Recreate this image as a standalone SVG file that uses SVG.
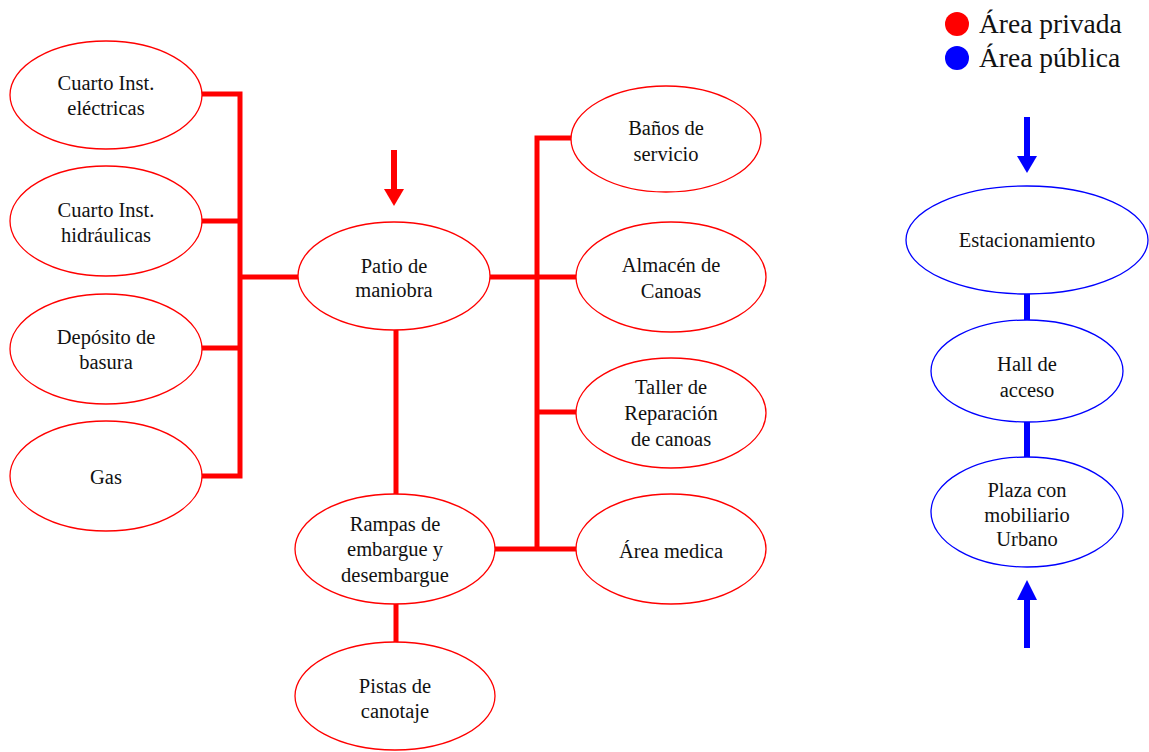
<svg xmlns="http://www.w3.org/2000/svg" width="1149" height="752" viewBox="0 0 1149 752">
<style>
.r{fill:#fff;stroke:#ff0000;stroke-width:1.3}
.b{fill:#fff;stroke:#0000ff;stroke-width:1.3}
text{font-family:"Liberation Serif","Times New Roman",serif;font-size:20.5px;fill:#111;text-anchor:middle}
.lg{font-size:27.5px;text-anchor:start}
.rc{stroke:#ff0000;stroke-width:5;fill:none;stroke-linecap:square}
.bc{stroke:#0000ff;stroke-width:6;fill:none}
</style>
<rect width="1149" height="752" fill="#fff"/>
<g id="connectors">
<path class="rc" d="M202,94H240V476H202M202,221H240M202,348H240M240,277H298"/>
<path class="rc" d="M396,330V495M396,604V641"/>
<path class="rc" d="M571,138H537V549M489,277H576M537,412H576M495,549H576"/>
<line x1="394" y1="150" x2="394" y2="190" stroke="#ff0000" stroke-width="6"/>
<polygon points="384,189 404,189 394,206" fill="#ff0000"/>
<path class="bc" d="M1027,294V320M1027,421V457"/>
<line x1="1027" y1="117" x2="1027" y2="157" stroke="#0000ff" stroke-width="6"/>
<polygon points="1017,156 1037,156 1027,173" fill="#0000ff"/>
<line x1="1027" y1="599" x2="1027" y2="648" stroke="#0000ff" stroke-width="6"/>
<polygon points="1017,600 1037,600 1027,580" fill="#0000ff"/>
</g>
<g id="legend">
<circle cx="957" cy="24" r="12" fill="#ff0000"/>
<circle cx="957" cy="58" r="12" fill="#0000ff"/>
<text class="lg" x="979" y="33">Área privada</text>
<text class="lg" x="979" y="67">Área pública</text>
</g>
<g id="n-electricas"><ellipse class="r" cx="106" cy="95" rx="96" ry="54"/><text x="106" y="90">Cuarto Inst.</text><text x="106" y="115">eléctricas</text></g>
<g id="n-hidraulicas"><ellipse class="r" cx="106" cy="221" rx="96" ry="55"/><text x="106" y="217">Cuarto Inst.</text><text x="106" y="242">hidráulicas</text></g>
<g id="n-deposito"><ellipse class="r" cx="106" cy="349" rx="96" ry="55"/><text x="106" y="344">Depósito de</text><text x="106" y="369">basura</text></g>
<g id="n-gas"><ellipse class="r" cx="106" cy="476" rx="96" ry="55"/><text x="106" y="484">Gas</text></g>
<g id="n-patio"><ellipse class="r" cx="394" cy="276" rx="96" ry="54"/><text x="394" y="273">Patio de</text><text x="394" y="297">maniobra</text></g>
<g id="n-rampas"><ellipse class="r" cx="395" cy="549" rx="100" ry="55"/><text x="395" y="531">Rampas de</text><text x="395" y="556">embargue y</text><text x="395" y="582">desembargue</text></g>
<g id="n-pistas"><ellipse class="r" cx="395" cy="696" rx="100" ry="54"/><text x="395" y="693">Pistas de</text><text x="395" y="718">canotaje</text></g>
<g id="n-banos"><ellipse class="r" cx="666" cy="139" rx="95" ry="53"/><text x="666" y="135">Baños de</text><text x="666" y="161">servicio</text></g>
<g id="n-almacen"><ellipse class="r" cx="671" cy="277" rx="95" ry="55"/><text x="671" y="272">Almacén de</text><text x="671" y="298">Canoas</text></g>
<g id="n-taller"><ellipse class="r" cx="671" cy="413" rx="95" ry="55"/><text x="671" y="394">Taller de</text><text x="671" y="420">Reparación</text><text x="671" y="446">de canoas</text></g>
<g id="n-medica"><ellipse class="r" cx="671" cy="549" rx="95" ry="55"/><text x="671" y="558">Área medica</text></g>
<g id="n-estac"><ellipse class="b" cx="1027" cy="240" rx="121" ry="54"/><text x="1027" y="247">Estacionamiento</text></g>
<g id="n-hall"><ellipse class="b" cx="1027" cy="371" rx="96" ry="51"/><text x="1027" y="371">Hall de</text><text x="1027" y="397">acceso</text></g>
<g id="n-plaza"><ellipse class="b" cx="1027" cy="512" rx="96" ry="55"/><text x="1027" y="497">Plaza con</text><text x="1027" y="522">mobiliario</text><text x="1027" y="546">Urbano</text></g>
</svg>
